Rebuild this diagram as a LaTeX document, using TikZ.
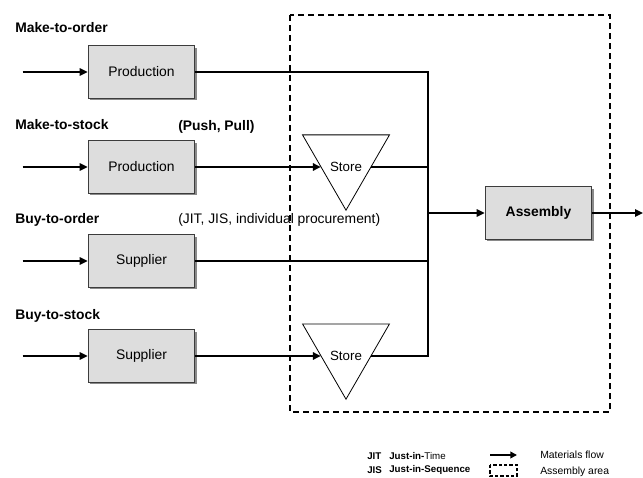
\documentclass[tikz,border=0pt]{standalone}
\usepackage{fontspec}
\setmainfont{Liberation Sans}
\usetikzlibrary{calc,shapes.geometric,shadows,arrows.meta}

\definecolor{boxgray}{HTML}{DDDDDD}
\definecolor{edgegray}{HTML}{3C3C3C}
\definecolor{shadegray}{HTML}{8A8A8A}

\tikzset{
  unitbox/.style={draw=edgegray, line width=0.7pt, fill=boxgray, minimum width=80pt, minimum height=39.5pt,
    inner sep=0pt, font=\fontsize{10.4}{12}\selectfont,
    drop shadow={shadow xshift=1.5pt, shadow yshift=-1.5pt, fill=shadegray, opacity=1}},
  storebox/.style={draw, line width=0.6pt, regular polygon, regular polygon sides=3, shape border rotate=180,
    minimum size=75.3pt, inner sep=0pt},
  flow/.style={line width=2.1pt, -{Triangle[length=6pt,width=5.5pt]}},
  heavy/.style={line width=2.1pt},
  light/.style={line width=1.5pt},
  rowlabel/.style={anchor=west, inner sep=0pt, font=\fontsize{10.4}{12}\selectfont\bfseries},
  note/.style={anchor=west, inner sep=0pt, font=\fontsize{10.4}{12}\selectfont},
  legend/.style={anchor=west, inner sep=0pt, font=\fontsize{7.3}{8}\selectfont},
}

\begin{document}
\begin{tikzpicture}[x=0.75pt,y=-0.75pt]
	\useasboundingbox (0,0) rectangle (643,478);

	% assembly area
	\draw[line width=1.6pt, dash pattern=on 4.5pt off 3pt] (290,15) rectangle (610,412);

	% row labels
	\node[rowlabel] (lmto) at (15,28) {Make-to-order};
	\node[rowlabel] (lmts) at (15,125) {Make-to-stock};
	\node[rowlabel] (lbto) at (15,220) {Buy-to-order};
	\node[rowlabel] (lbts) at (15,316) {Buy-to-stock};
	\node[note] (npush) at (178,127) {\bfseries (Push, Pull)};
	\node[note] (njit) at (178,220) {(JIT, JIS, individual procurement)};

	% units
	\node[unitbox] (prodA) at (141.5,72) {Production};
	\node[unitbox] (prodB) at (141.5,167) {Production};
	\node[unitbox] (suppA) at (141.5,261) {Supplier};
	\node[unitbox] (suppB) at (141.5,356) {Supplier};
	\node[unitbox, font=\fontsize{10.4}{12}\selectfont\bfseries] (assy) at (538.5,213) {Assembly};

	\node[storebox, label={[yshift=-5pt]center:Store}] (storeB) at (346,160) {};
	\node[storebox, label={[yshift=-5pt]center:Store}] (storeD) at (346,349) {};

	\coordinate (inB) at ($(storeB.corner 3)!0.43!(storeB.corner 1)$);
	\coordinate (outB) at ($(storeB.corner 2)!0.43!(storeB.corner 1)$);
	\coordinate (inD) at ($(storeD.corner 3)!0.43!(storeD.corner 1)$);
	\coordinate (outD) at ($(storeD.corner 2)!0.43!(storeD.corner 1)$);
	\coordinate (bus) at (428,213);
	\coordinate (exit) at (643,213);

	% inputs
	\foreach \n in {prodA,prodB,suppA,suppB}{
		\draw[flow] (\n.west) ++(-65,0) coordinate (src\n) -- (\n.west);
	}

	% flows to assembly
	\draw[heavy] (prodA.east) -| (bus);
	\draw[flow] (prodB.east) -- (inB |- prodB.east);
	\draw[light] (outB |- prodB.east) -- (bus |- prodB.east);
	\draw[light] (suppA.east) -- (suppA.east -| bus);
	\draw[flow] (suppB.east) -- (inD |- suppB.east);
	\draw[heavy] (outD |- suppB.east) -| (bus);
	\draw[flow] (bus) -- (assy.west);
	\draw[flow] (assy.east) -- (exit);

	% legend
	\node[legend, font=\fontsize{7.3}{8}\selectfont\bfseries] (kjit) at (367,456) {JIT};
	\node[legend] (tjit) at (389,456) {\bfseries Just-in-\mdseries Time};
	\node[legend, font=\fontsize{7.3}{8}\selectfont\bfseries] (kjis) at (367,470) {JIS};
	\node[legend, font=\fontsize{7.3}{8}\selectfont\bfseries] (tjis) at (389,470) {Just-in-Sequence};
	\coordinate (arrA) at (490,455);
	\coordinate (arrB) at (517,455);
	\draw[line width=1.8pt, -{Triangle[length=5pt,width=5pt]}] (arrA) -- (arrB);
	\draw[line width=0.9pt, dash pattern=on 2.5pt off 1.5pt] (490,465) rectangle (517,476);
	\node[legend, font=\fontsize{7.8}{9}\selectfont] (tflow) at (540,455) {Materials flow};
	\node[legend, font=\fontsize{7.8}{9}\selectfont] (tarea) at (540,472) {Assembly area};
\end{tikzpicture}
\end{document}
